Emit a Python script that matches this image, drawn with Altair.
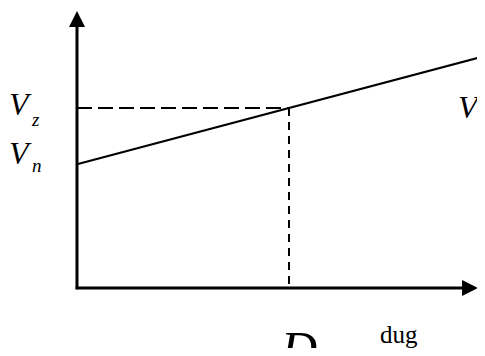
import altair as alt
import pandas as pd

# ---- values (chart units) ----
D = 5.0            # abscissa of the marked point
Vz = 4.0           # level V_z
Vn = 2.75          # level V_n (intercept)
line_x = [0.0, 9.46]
line_y = [2.75, 5.115]
x_axis_end = 9.1
y_axis_end = 5.85
x_arrow = 9.27
y_arrow = 5.98
x_domain = [-1.627, 9.434]
y_domain = [-1.333, 6.222]

XS = alt.Scale(domain=x_domain, nice=False, zero=False)
YS = alt.Scale(domain=y_domain, nice=False, zero=False)


def X(f):
    return alt.X(f, type="quantitative", scale=XS, axis=None)


def Y(f):
    return alt.Y(f, type="quantitative", scale=YS, axis=None)


BLACK = "#000000"

# axes
axes_df = pd.DataFrame({"x": [-0.03, 0.0], "x2": [x_axis_end, 0.0],
                        "y": [0.0, -0.03], "y2": [0.0, y_axis_end]})
axes = alt.Chart(axes_df).mark_rule(color=BLACK, strokeWidth=3).encode(
    x=X("x"), x2="x2", y=Y("y"), y2="y2")

# arrowheads
up_df = pd.DataFrame({"x": [0.0], "y": [y_arrow]})
right_df = pd.DataFrame({"x": [x_arrow], "y": [0.0]})
up = alt.Chart(up_df).mark_point(shape="M0,-1L-1,1L1,1Z", filled=True, size=256,
                                 color=BLACK, opacity=1, strokeWidth=0).encode(
    x=X("x"), y=Y("y"))
right = alt.Chart(right_df).mark_point(shape="M1,0L-1,-1L-1,1Z", filled=True, size=256,
                                       color=BLACK, opacity=1, strokeWidth=0).encode(
    x=X("x"), y=Y("y"))

# main line
line_df = pd.DataFrame({"x": line_x, "y": line_y})
line = alt.Chart(line_df).mark_line(color=BLACK, strokeWidth=2).encode(
    x=X("x"), y=Y("y"))

# dashed guides
h_df = pd.DataFrame({"x": [0.0], "x2": [D], "y": [Vz], "y2": [Vz]})
v_df = pd.DataFrame({"x": [D], "x2": [D], "y": [Vz], "y2": [0.0]})
hdash = alt.Chart(h_df).mark_rule(color=BLACK, strokeWidth=2, strokeDash=[15, 6]).encode(
    x=X("x"), x2="x2", y=Y("y"), y2="y2")
vdash = alt.Chart(v_df).mark_rule(color=BLACK, strokeWidth=2, strokeDash=[8, 6]).encode(
    x=X("x"), x2="x2", y=Y("y"), y2="y2")


def label(text, x, y, size, dx, dy, italic=True):
    df = pd.DataFrame({"x": [x], "y": [y], "t": [text]})
    kw = dict(font="Liberation Serif", fontSize=size, align="left",
              baseline="alphabetic", dx=dx, dy=dy, color=BLACK)
    if italic:
        kw["fontStyle"] = "italic"
    return alt.Chart(df).mark_text(**kw).encode(x=X("x"), y=Y("y"), text="t:N")


labels = [
    label("V", 0.0, Vz, 32, -68, 7),
    label("z", 0.0, Vz, 19, -45, 18),
    label("V", 0.0, Vn, 32, -68, 0),
    label("n", 0.0, Vn, 19, -45, 8),
    label("V", line_x[-1], line_y[-1], 32, -20, 60),
    label("z", line_x[-1], line_y[-1], 19, 3, 70),
    label("D", D, 0.0, 50, -8, 78),
    label("dug", D, 0.0, 25, 91, 55, italic=False),
]

chart = alt.layer(axes, hdash, vdash, line, up, right, *labels).properties(
    width=469, height=340,
    autosize=alt.AutoSizeParams(type="none"),
    padding=0,
    background="white",
).configure_view(stroke=None)

chart.save("out.html", embed_options={"renderer": "svg", "actions": False})
